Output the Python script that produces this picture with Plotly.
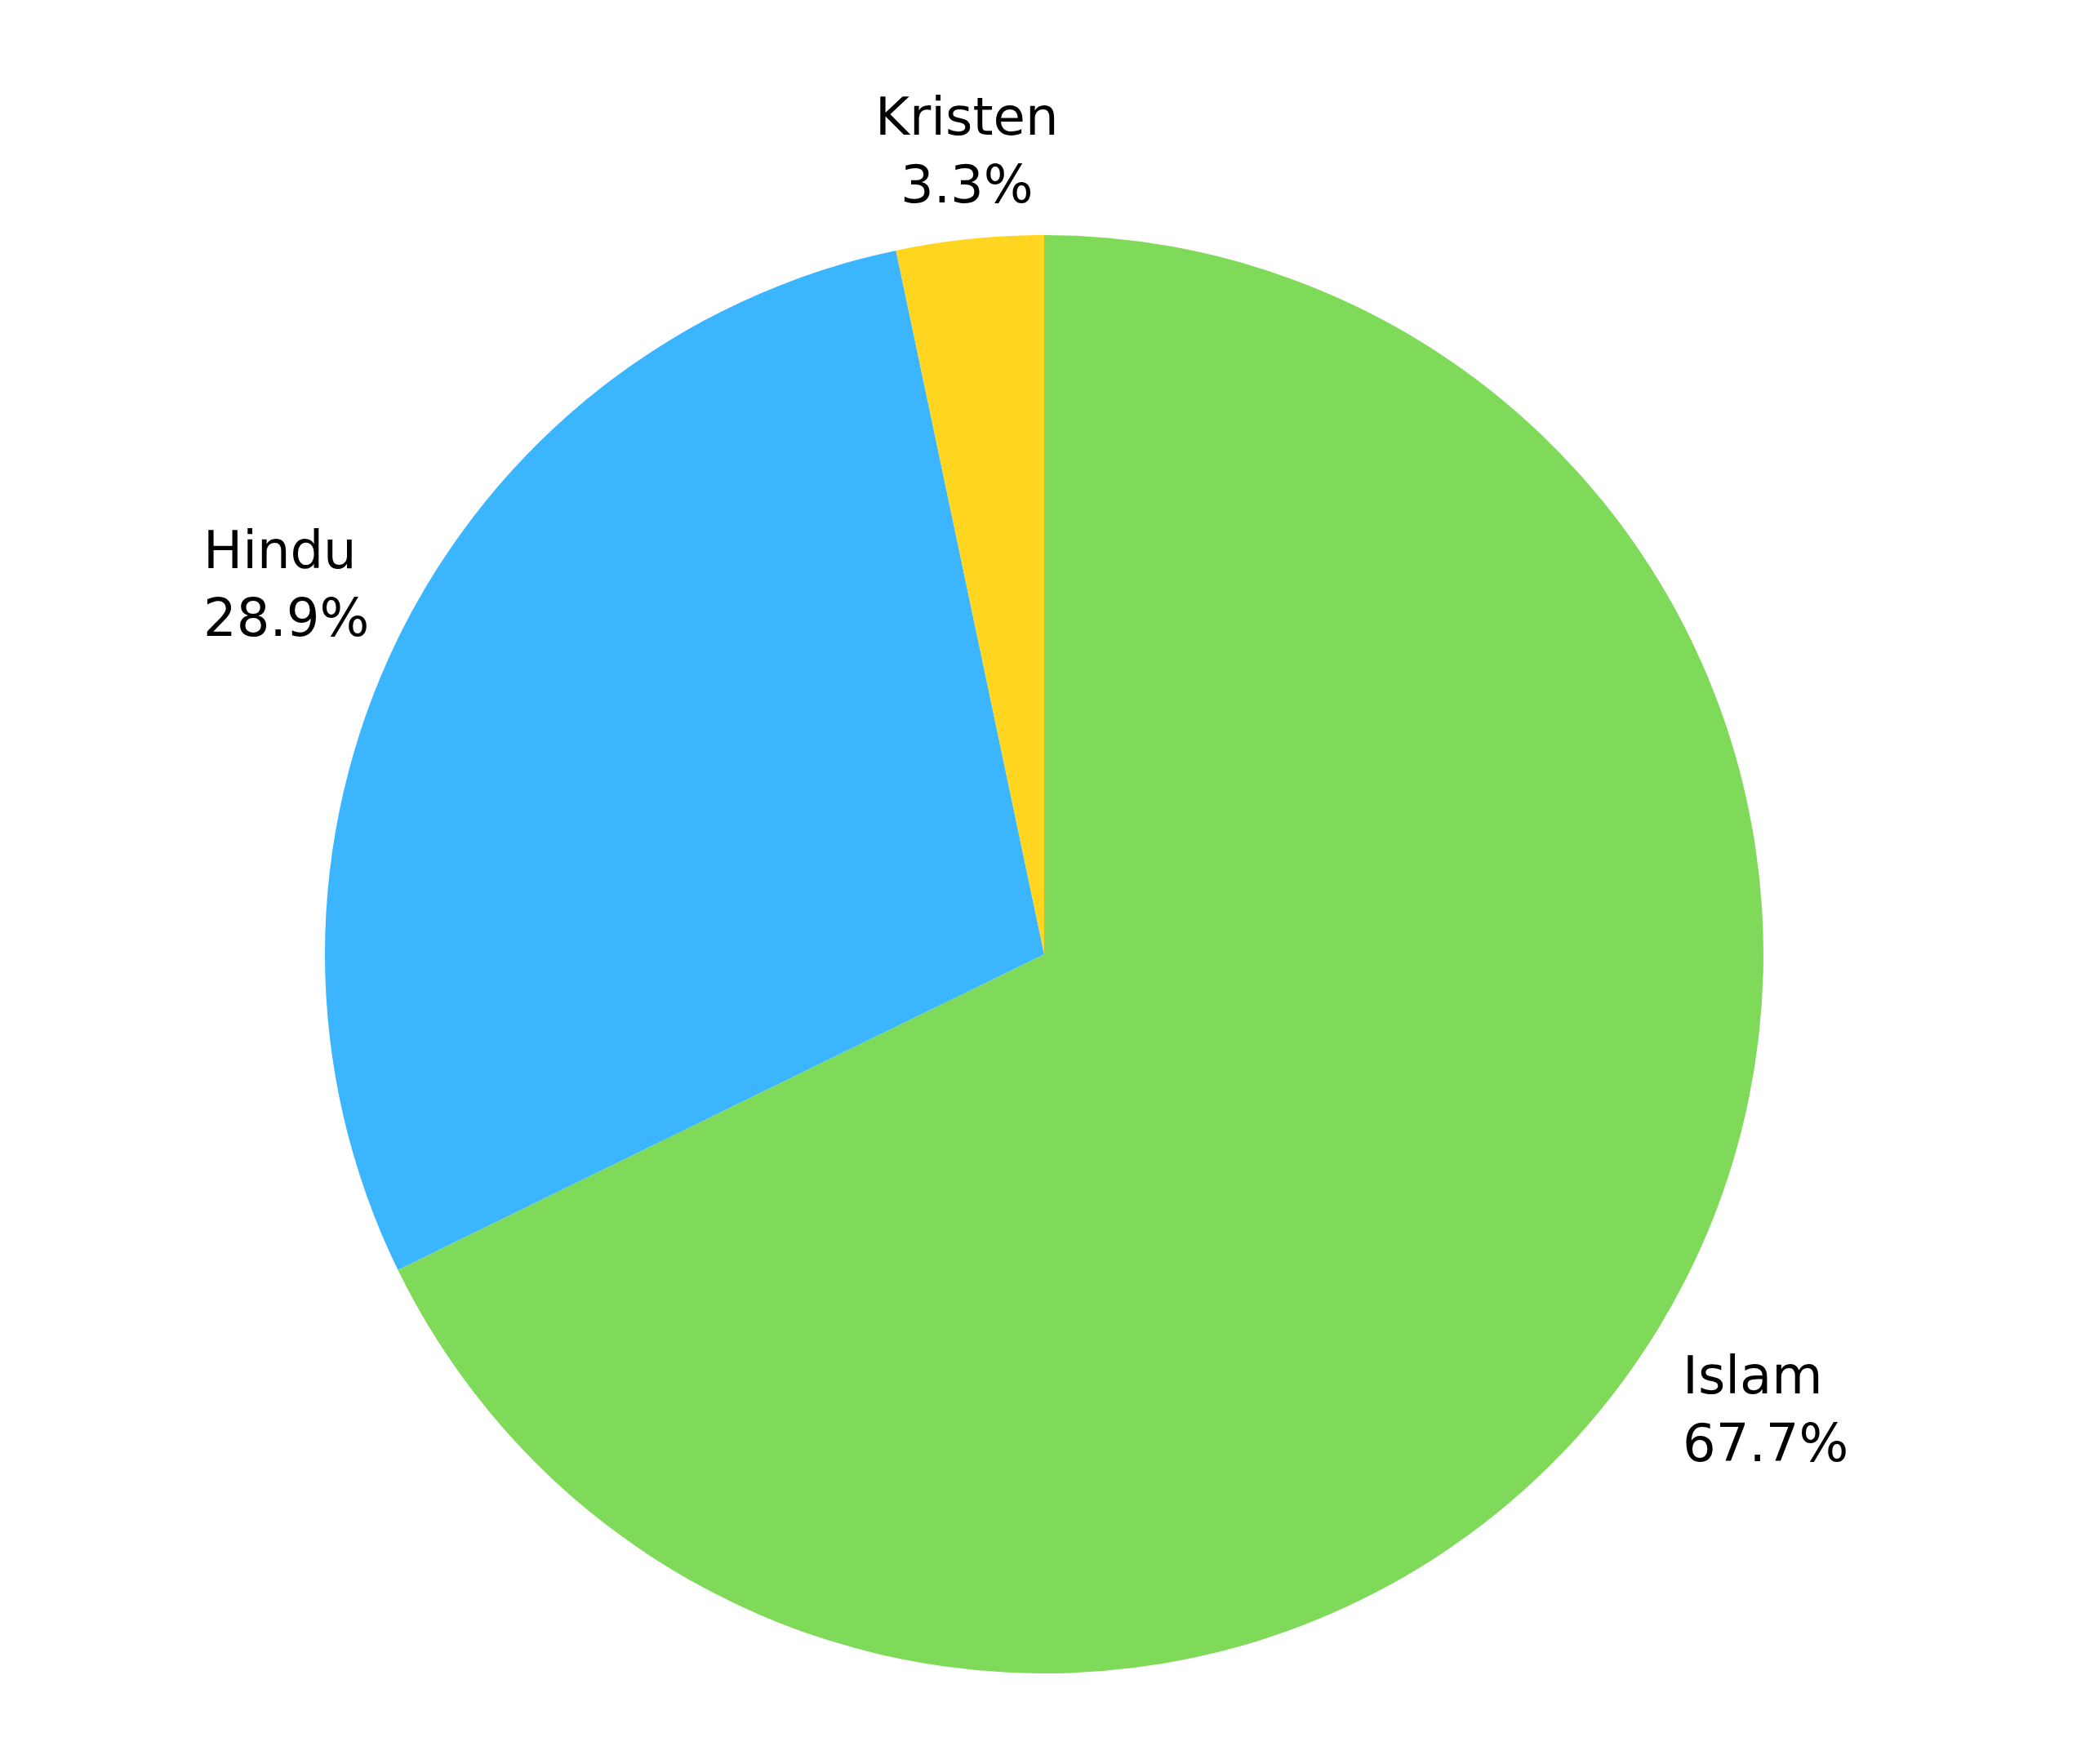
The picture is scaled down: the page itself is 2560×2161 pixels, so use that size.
import math
import plotly.graph_objects as go

labels = ["Islam", "Hindu", "Kristen"]
values = [67.7, 28.9, 3.3]
colors = ["#7FDA5A", "#3BB5FE", "#FFD520"]

W, H = 2560, 2161
cx, cy, r = 1271, 1161, 881
font = dict(family="DejaVu Sans", size=64, color="#000000")

fig = go.Figure(go.Pie(
    labels=labels,
    values=values,
    sort=False,
    direction="clockwise",
    rotation=0,
    marker=dict(colors=colors, line=dict(width=0)),
    textinfo="none",
    hoverinfo="label+percent",
    showlegend=False,
    domain=dict(x=[(cx - r) / W, (cx + r) / W],
                y=[(H - (cy + r)) / H, (H - (cy - r)) / H]),
))

# outside labels placed beside each slice's mid-angle point on the rim (derived from the values)
total = sum(values)
cum = 0.0
for lab, v in zip(labels, values):
    mid = 2 * math.pi * (cum + v / 2) / total
    cum += v
    dx, dy = math.sin(mid), -math.cos(mid)
    ex, ey = cx + r * dx, cy + r * dy
    if abs(dx) > 0.2:
        sgn = 1 if dx > 0 else -1
        px, py = ex + 35 * sgn, ey + 12
        xa, al = ("left" if sgn > 0 else "right"), "left"
    else:
        px, py = ex + 35 * dx, ey + 30 * dy
        xa, al = "center", "center"
    ya = "bottom" if dy < 0 else "top"
    fig.add_annotation(
        x=px / W, y=1 - py / H, xref="paper", yref="paper",
        text=f"{lab}<br>{v:.1f}%", showarrow=False,
        xanchor=xa, yanchor=ya, align=al, font=font,
        borderpad=0, borderwidth=0,
    )

fig.update_layout(
    width=W, height=H,
    margin=dict(l=0, r=0, t=0, b=0),
    paper_bgcolor="white",
    plot_bgcolor="white",
)
fig.write_html("out.html")
